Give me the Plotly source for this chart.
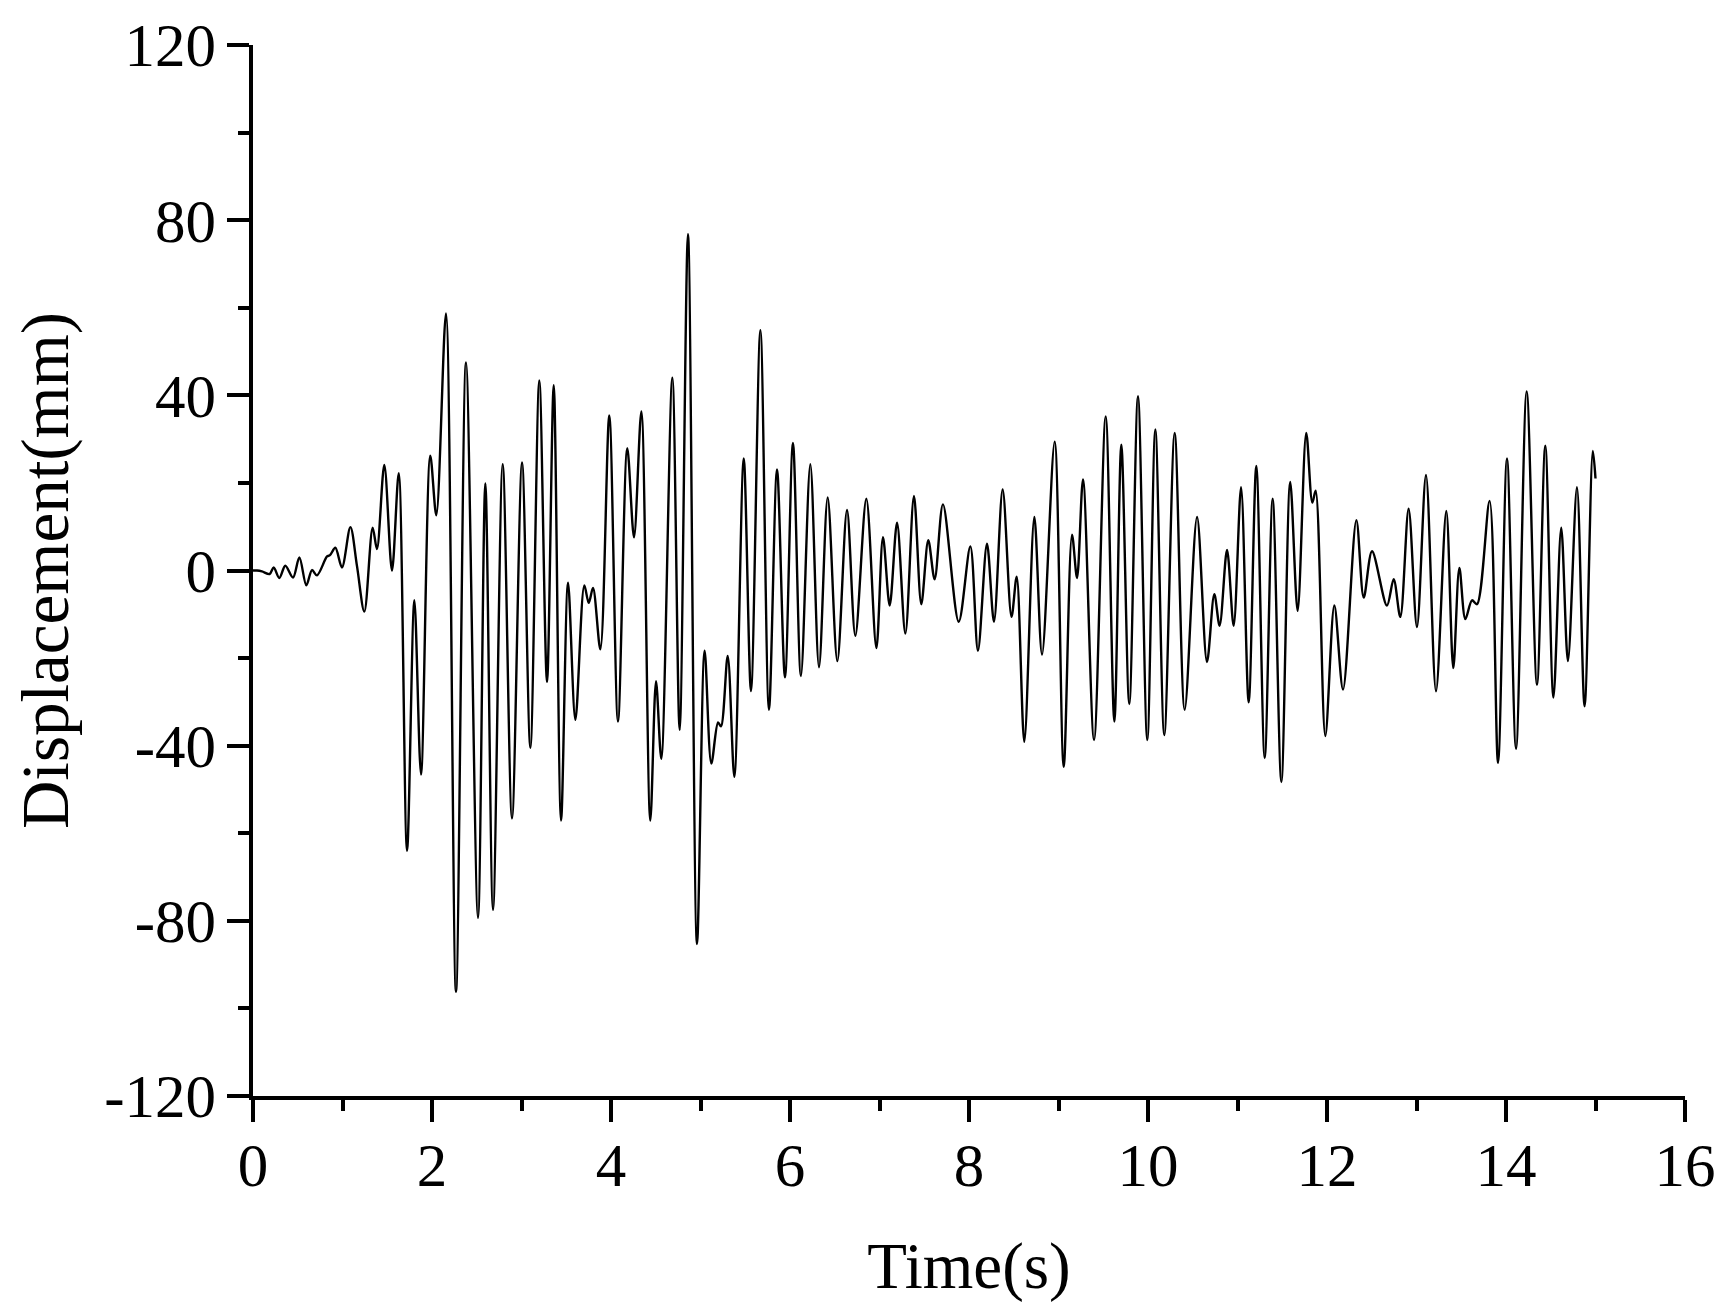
import plotly.graph_objects as go

# Extrema (time in s, displacement in mm)
time_s = [0.0, 0.045, 0.10, 0.186, 0.231, 0.294, 0.361, 0.447, 0.518, 0.596, 0.659, 0.715,
          0.827, 0.86, 0.92, 0.994, 1.088, 1.162, 1.244, 1.337, 1.385, 1.467, 1.553, 1.628,
          1.721, 1.803, 1.877, 1.981, 2.048, 2.156, 2.268, 2.38, 2.514, 2.596, 2.682, 2.79,
          2.894, 3.006, 3.099, 3.199, 3.285, 3.36, 3.442, 3.52, 3.602, 3.702, 3.751, 3.799,
          3.881, 3.981, 4.078, 4.182, 4.257, 4.339, 4.439, 4.503, 4.562, 4.685, 4.767, 4.86,
          4.961, 5.046, 5.121, 5.196, 5.229, 5.304, 5.378, 5.483, 5.564, 5.669, 5.765, 5.855,
          5.944, 6.033, 6.122, 6.227, 6.324, 6.421, 6.529, 6.637, 6.73, 6.853, 6.965, 7.039,
          7.114, 7.196, 7.289, 7.385, 7.467, 7.545, 7.616, 7.709, 7.885, 8.015, 8.1, 8.201,
          8.279, 8.376, 8.475, 8.533, 8.618, 8.73, 8.816, 8.957, 9.058, 9.151, 9.207, 9.274,
          9.397, 9.527, 9.624, 9.702, 9.791, 9.888, 9.992, 10.082, 10.182, 10.298, 10.41,
          10.548, 10.659, 10.741, 10.8, 10.883, 10.957, 11.04, 11.125, 11.21, 11.304, 11.393,
          11.49, 11.589, 11.672, 11.768, 11.836, 11.873, 11.981, 12.082, 12.179, 12.328,
          12.41, 12.503, 12.67, 12.745, 12.819, 12.912, 13.005, 13.106, 13.218, 13.333,
          13.411, 13.479, 13.546, 13.62, 13.676, 13.817, 13.911, 14.011, 14.112, 14.231,
          14.346, 14.439, 14.53, 14.617, 14.692, 14.793, 14.878, 14.97, 15.0]
disp_mm = [0.0, 0.0, -0.2, -0.8, 0.7, -1.7, 1.1, -1.6, 3.0, -3.4, 0.1, -1.1,
           3.2, 3.5, 5.2, 0.7, 9.9, 1.0, -9.4, 9.8, 4.9, 24.1, 0.0, 22.2,
           -64.0, -6.8, -46.6, 26.2, 12.6, 58.7, -96.2, 47.5, -79.3, 19.9, -77.5, 24.3,
           -56.6, 24.7, -40.5, 43.4, -25.5, 42.3, -57.1, -2.8, -34.1, -3.4, -7.4, -4.0,
           -18.0, 35.4, -34.5, 27.9, 7.6, 36.3, -57.1, -25.3, -43.0, 44.0, -36.4, 76.8,
           -85.3, -18.3, -44.1, -34.7, -35.6, -19.5, -47.1, 25.6, -27.5, 54.9, -31.8, 23.1,
           -24.4, 29.1, -24.1, 24.3, -22.1, 16.7, -20.7, 13.8, -14.9, 16.4, -17.7, 7.6,
           -8.0, 10.9, -14.4, 17.0, -7.7, 6.9, -2.0, 15.1, -11.7, 5.5, -18.3, 6.1,
           -11.7, 18.5, -10.6, -1.4, -39.1, 12.2, -19.2, 29.4, -44.8, 8.2, -1.7, 20.8,
           -38.7, 35.2, -34.5, 28.7, -30.5, 39.8, -38.7, 32.2, -37.6, 31.4, -31.8,
           12.2, -20.9, -5.4, -12.6, 4.7, -12.6, 19.0, -30.1, 23.9, -42.8, 16.4,
           -48.3, 20.2, -9.2, 31.4, 15.5, 18.2, -37.8, -8.0, -27.2, 11.5,
           -6.2, 4.4, -8.0, -2.0, -10.6, 14.1, -12.9, 21.8, -27.6, 13.6,
           -22.3, 0.6, -11.1, -6.8, -7.7, 15.9, -43.9, 25.6, -40.7, 40.9,
           -26.1, 28.5, -29.0, 9.8, -20.7, 19.0, -31.0, 27.3, 21.0]

x_ticks = [0, 2, 4, 6, 8, 10, 12, 14, 16]
x_labels = ["0", "2", "4", "6", "8", "10", "12", "14", "16"]
y_ticks = [-120, -80, -40, 0, 40, 80, 120]
y_labels = ["-120", "-80", "-40", "0", "40", "80", "120"]

FONT = "Liberation Serif, Times New Roman, serif"

fig = go.Figure()
fig.add_trace(go.Scatter(
    x=time_s, y=disp_mm, mode="lines",
    line=dict(color="black", width=2.4, shape="spline", smoothing=0.9),
    showlegend=False,
))

axis_common = dict(
    showgrid=False, zeroline=False, showline=True, linecolor="black", linewidth=3.5,
    ticks="outside", ticklen=22, tickwidth=3.5, tickcolor="black",
    tickfont=dict(family=FONT, size=61, color="black"),
    mirror=False,
)

fig.update_xaxes(
    range=[0, 16], tickvals=x_ticks, ticktext=x_labels,
    minor=dict(dtick=1, tick0=0, ticks="outside", ticklen=11, tickwidth=3.5, tickcolor="black"),
    ticklabelstandoff=-9,
    title=dict(text="Time(s)", font=dict(family=FONT, size=65, color="black"), standoff=46),
    **axis_common,
)
fig.update_yaxes(
    range=[-120, 120], tickvals=y_ticks, ticktext=y_labels,
    minor=dict(dtick=20, tick0=0, ticks="outside", ticklen=11, tickwidth=3.5, tickcolor="black"),
    ticklabelstandoff=-1,
    title=dict(text="Displacement(mm)", font=dict(family=FONT, size=67, color="black"), standoff=23),
    **axis_common,
)

fig.update_layout(
    width=1734, height=1315,
    margin=dict(l=245, r=57, t=37, b=227, autoexpand=False),
    paper_bgcolor="white", plot_bgcolor="white",
)

fig.write_html("out.html")
